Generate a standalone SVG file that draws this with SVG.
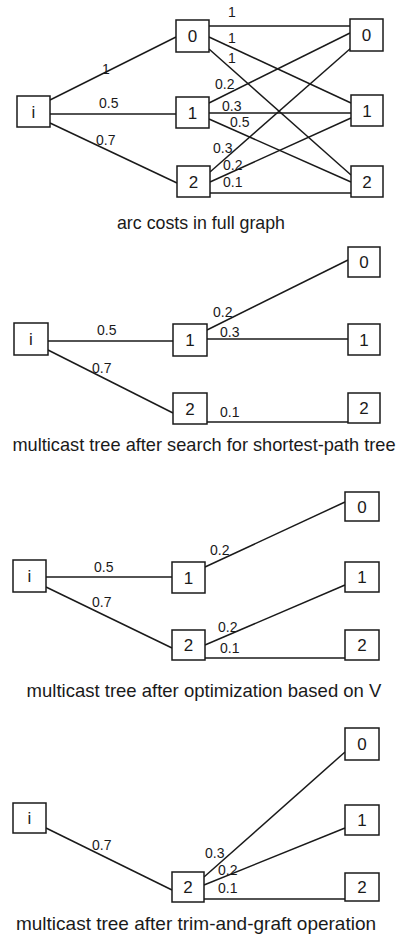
<svg xmlns="http://www.w3.org/2000/svg" width="402" height="943" viewBox="0 0 402 943">
  <style>
    .box rect { fill: #fff; stroke: #1a1a1a; stroke-width: 1.5; }
    .box text { font-family: "Liberation Sans", Arial, sans-serif; font-size: 17px; fill: #1a1a1a; text-anchor: middle; }
    .edges line { stroke: #1a1a1a; stroke-width: 1.5; }
    .cost { font-family: "Liberation Sans", Arial, sans-serif; font-size: 14px; fill: #1a1a1a; }
    .caption { font-family: "Liberation Sans", Arial, sans-serif; font-size: 18.5px; fill: #1a1a1a; text-anchor: middle; }
  </style>
  <rect width="402" height="943" fill="#fff"/>

  <!-- Panel 1: arc costs in the full graph -->
  <g id="p1-edges" class="edges">
    <line x1="50" y1="100" x2="176" y2="37"/>
    <line x1="50" y1="114" x2="176" y2="114"/>
    <line x1="50" y1="123" x2="177" y2="183"/>
    <line x1="209" y1="26" x2="350" y2="26"/>
    <line x1="209" y1="37" x2="351" y2="103"/>
    <line x1="209" y1="49" x2="351" y2="175"/>
    <line x1="209" y1="103" x2="350" y2="33"/>
    <line x1="209" y1="113" x2="351" y2="113"/>
    <line x1="209" y1="119" x2="351" y2="182"/>
    <line x1="210" y1="172" x2="351" y2="48"/>
    <line x1="210" y1="182" x2="351" y2="118"/>
    <line x1="210" y1="193" x2="351" y2="193"/>
  </g>
  <g id="p1-costs" class="cost">
    <text x="102" y="74">1</text>
    <text x="228" y="17">1</text>
    <text x="228" y="43">1</text>
    <text x="228" y="63">1</text>
    <text x="99" y="108">0.5</text>
    <text x="96" y="145">0.7</text>
    <text x="215" y="89">0.2</text>
    <text x="222" y="111">0.3</text>
    <text x="230" y="127">0.5</text>
    <text x="213" y="153">0.3</text>
    <text x="223" y="170">0.2</text>
    <text x="223" y="187">0.1</text>
  </g>
  <g id="p1-i" class="box"><rect x="17" y="96" width="33" height="31"/><text x="33.5" y="117.5">i</text></g>
  <g id="p1-m0" class="box"><rect x="176" y="20" width="33" height="32"/><text x="192.5" y="42">0</text></g>
  <g id="p1-m1" class="box"><rect x="176" y="97" width="33" height="31"/><text x="192.5" y="118.5">1</text></g>
  <g id="p1-m2" class="box"><rect x="177" y="166" width="33" height="31"/><text x="193.5" y="187.5">2</text></g>
  <g id="p1-r0" class="box"><rect x="350" y="19" width="33" height="32"/><text x="366.5" y="41">0</text></g>
  <g id="p1-r1" class="box"><rect x="351" y="95" width="32" height="31"/><text x="367" y="116.5">1</text></g>
  <g id="p1-r2" class="box"><rect x="351" y="166" width="32" height="31"/><text x="367" y="187.5">2</text></g>
  <text class="caption" x="201" y="229" style="font-size:17.8px">arc costs in full graph</text>

  <!-- Panel 2: shortest-path tree -->
  <g id="p2-edges" class="edges">
    <line x1="48" y1="341" x2="173" y2="341"/>
    <line x1="48" y1="350" x2="173" y2="413"/>
    <line x1="207" y1="330" x2="348" y2="260"/>
    <line x1="207" y1="339" x2="348" y2="339"/>
    <line x1="207" y1="422" x2="348" y2="422"/>
  </g>
  <g id="p2-costs" class="cost">
    <text x="97" y="335">0.5</text>
    <text x="92" y="373">0.7</text>
    <text x="213" y="317">0.2</text>
    <text x="220" y="337">0.3</text>
    <text x="220" y="417">0.1</text>
  </g>
  <g id="p2-i" class="box"><rect x="14" y="323" width="34" height="32"/><text x="31" y="345">i</text></g>
  <g id="p2-m1" class="box"><rect x="173" y="324" width="34" height="32"/><text x="190" y="346">1</text></g>
  <g id="p2-m2" class="box"><rect x="173" y="393" width="34" height="31"/><text x="190" y="414.5">2</text></g>
  <g id="p2-r0" class="box"><rect x="348" y="247" width="32" height="30"/><text x="364" y="268">0</text></g>
  <g id="p2-r1" class="box"><rect x="348" y="324" width="32" height="31"/><text x="364" y="345.5">1</text></g>
  <g id="p2-r2" class="box"><rect x="348" y="393" width="32" height="30"/><text x="364" y="414">2</text></g>
  <text class="caption" x="204" y="451" style="font-size:18.2px">multicast tree after search for shortest-path tree</text>

  <!-- Panel 3: after optimization based on V -->
  <g id="p3-edges" class="edges">
    <line x1="46" y1="577" x2="172" y2="577"/>
    <line x1="46" y1="587" x2="172" y2="648"/>
    <line x1="205" y1="567" x2="345" y2="502"/>
    <line x1="205" y1="645" x2="345" y2="585"/>
    <line x1="205" y1="658" x2="345" y2="658"/>
  </g>
  <g id="p3-costs" class="cost">
    <text x="94" y="572">0.5</text>
    <text x="92" y="607">0.7</text>
    <text x="210" y="555">0.2</text>
    <text x="218" y="632">0.2</text>
    <text x="220" y="653">0.1</text>
  </g>
  <g id="p3-i" class="box"><rect x="13" y="560" width="33" height="32"/><text x="29.5" y="582">i</text></g>
  <g id="p3-m1" class="box"><rect x="172" y="562" width="33" height="31"/><text x="188.5" y="583.5">1</text></g>
  <g id="p3-m2" class="box"><rect x="172" y="630" width="33" height="30"/><text x="188.5" y="651">2</text></g>
  <g id="p3-r0" class="box"><rect x="345" y="492" width="34" height="29"/><text x="362" y="512.5">0</text></g>
  <g id="p3-r1" class="box"><rect x="345" y="562" width="34" height="30"/><text x="362" y="583">1</text></g>
  <g id="p3-r2" class="box"><rect x="345" y="630" width="34" height="30"/><text x="362" y="651">2</text></g>
  <text class="caption" x="204" y="697">multicast tree after optimization based on V</text>

  <!-- Panel 4: after trim-and-graft -->
  <g id="p4-edges" class="edges">
    <line x1="46" y1="828" x2="172" y2="890"/>
    <line x1="204" y1="877" x2="345" y2="752"/>
    <line x1="204" y1="885" x2="345" y2="828"/>
    <line x1="204" y1="899" x2="345" y2="899"/>
  </g>
  <g id="p4-costs" class="cost">
    <text x="92" y="850">0.7</text>
    <text x="205" y="858">0.3</text>
    <text x="218" y="875">0.2</text>
    <text x="218" y="893">0.1</text>
  </g>
  <g id="p4-i" class="box"><rect x="13" y="803" width="33" height="30"/><text x="29.5" y="824">i</text></g>
  <g id="p4-m2" class="box"><rect x="172" y="872" width="32" height="30"/><text x="188" y="893">2</text></g>
  <g id="p4-r0" class="box"><rect x="345" y="728" width="34" height="32"/><text x="362" y="750">0</text></g>
  <g id="p4-r1" class="box"><rect x="345" y="805" width="34" height="30"/><text x="362" y="826">1</text></g>
  <g id="p4-r2" class="box"><rect x="345" y="873" width="34" height="28"/><text x="362" y="893">2</text></g>
  <text class="caption" x="196" y="930" style="font-size:19px">multicast tree after trim-and-graft operation</text>
</svg>
